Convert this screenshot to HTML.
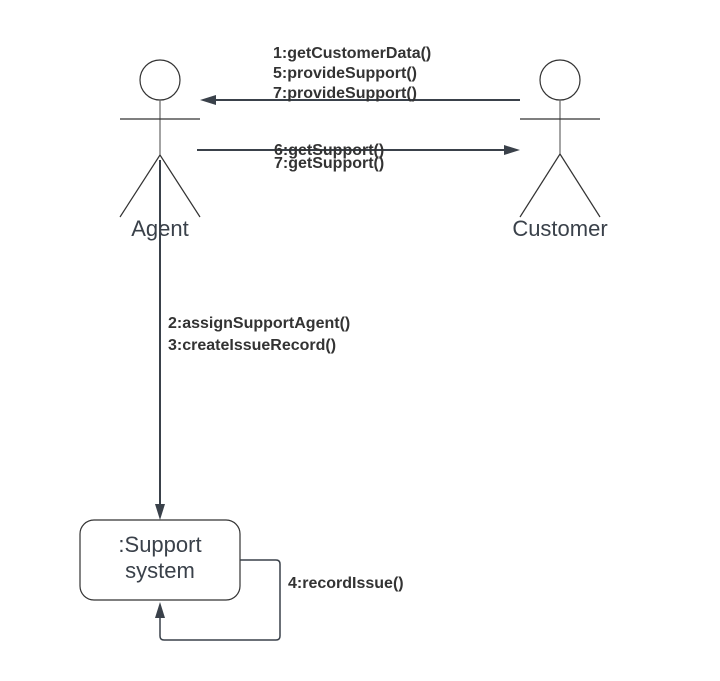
<!DOCTYPE html>
<html><head><meta charset="utf-8"><style>
html,body{margin:0;padding:0;background:#fff;}
svg{display:block;}
.l{font-family:"Liberation Sans",Arial,sans-serif;font-weight:bold;font-size:16px;fill:#333;}
.n{font-family:"Liberation Sans",Arial,sans-serif;font-size:22px;fill:#3a414a;}
</style></head><body>
<svg width="720" height="681" viewBox="0 0 720 681" xmlns="http://www.w3.org/2000/svg">
<g stroke="#333" stroke-width="1.2" fill="none">
<circle cx="160" cy="80" r="20" fill="#fff"/>
<line x1="160" y1="100" x2="160" y2="155" stroke="#666"/>
<line x1="120" y1="119" x2="200" y2="119"/>
<line x1="160" y1="155" x2="120" y2="217"/>
<line x1="160" y1="155" x2="200" y2="217"/>
<circle cx="560" cy="80" r="20" fill="#fff"/>
<line x1="560" y1="100" x2="560" y2="154" stroke="#666"/>
<line x1="520" y1="119" x2="600" y2="119"/>
<line x1="560" y1="154" x2="520" y2="217"/>
<line x1="560" y1="154" x2="600" y2="217"/>
<rect x="80" y="520" width="160" height="80" rx="14" fill="#fff"/>
</g>
<g stroke="#3a414a" stroke-width="2" fill="none">
<line x1="520" y1="100" x2="214" y2="100"/>
<line x1="197" y1="150" x2="506" y2="150"/>
<line x1="160" y1="160" x2="160" y2="506"/>
<path d="M240,560 L276,560 Q280,560 280,564 L280,636 Q280,640 276,640 L164,640 Q160,640 160,636 L160,616" stroke-width="1.5"/>
</g>
<g fill="#3a414a">
<polygon points="200,100 216,95 216,105"/>
<polygon points="520,150 504,145 504,155"/>
<polygon points="160,520 155,504 165,504"/>
<polygon points="160,602 155,618 165,618"/>
</g>
<text class="l" x="273" y="58">1:getCustomerData()</text>
<text class="l" x="273" y="78">5:provideSupport()</text>
<text class="l" x="273" y="98">7:provideSupport()</text>
<text class="l" x="274" y="155">6:getSupport()</text>
<text class="l" x="274" y="168">7:getSupport()</text>
<text class="l" x="168" y="328">2:assignSupportAgent()</text>
<text class="l" x="168" y="350">3:createIssueRecord()</text>
<text class="l" x="288" y="588">4:recordIssue()</text>
<text class="n" x="160" y="236" text-anchor="middle">Agent</text>
<text class="n" x="560" y="236" text-anchor="middle">Customer</text>
<text class="n" x="160" y="552" text-anchor="middle">:Support</text>
<text class="n" x="160" y="578" text-anchor="middle">system</text>
</svg>
</body></html>
